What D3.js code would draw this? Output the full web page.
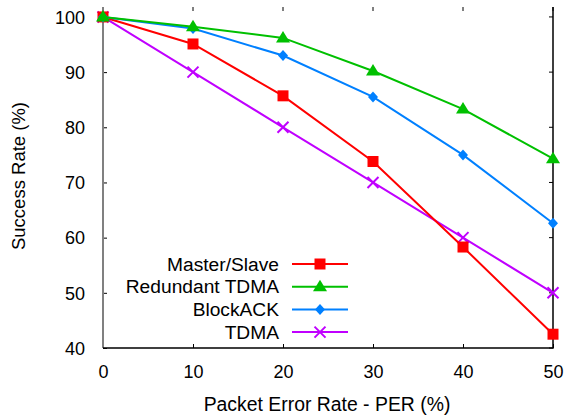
<!DOCTYPE html>
<html>
<head>
<meta charset="utf-8">
<script src="https://cdn.jsdelivr.net/npm/d3@7"></script>
<style>
body { margin: 0; background: #fff; }
svg { display: block; font-family: "Liberation Sans", Arial, sans-serif; }
.tick text { font-size: 18px; fill: #000; }
</style>
</head>
<body>
<svg></svg>
<script>
var width = 564,
    height = 419;

// data
var per = [0, 10, 20, 30, 40, 50];
var masterSlave = [100, 95.1, 85.7, 73.8, 58.3, 42.5];
var redundantTdma = [100, 98.2, 96.2, 90.2, 83.3, 74.3];
var blockAck = [100, 97.9, 93.0, 85.5, 75.0, 62.6];
var tdma = [100, 90, 80, 70, 60, 50];
var xTicks = [0, 10, 20, 30, 40, 50];
var yTicks = [40, 50, 60, 70, 80, 90, 100];
var names = ['Master/Slave', 'Redundant TDMA', 'BlockACK', 'TDMA'];

var series = [
    {name: names[0], values: masterSlave, color: '#ff0000', symbol: 'square'},
    {name: names[1], values: redundantTdma, color: '#00c000', symbol: 'triangle'},
    {name: names[2], values: blockAck, color: '#0080ff', symbol: 'diamond'},
    {name: names[3], values: tdma, color: '#c000ff', symbol: 'cross'}
];

var margin = {left: 103, right: 11, top: 7, bottom: 71};

var svg = d3.select('svg')
    .attr('width', width)
    .attr('height', height);

var x = d3.scaleLinear().domain([0, 50]).range([margin.left, width - margin.right]),
    y = d3.scaleLinear().domain([40, 101.8]).range([height - margin.bottom, margin.top]);

var x0 = x.range()[0], x1 = x.range()[1],
    y0 = y.range()[0], y1 = y.range()[1];

// axes (ticks point inward like gnuplot)
var xAxis = d3.axisBottom(x).tickValues(xTicks).tickSize(-4).tickPadding(19).tickFormat(d3.format('d'));
var yAxis = d3.axisLeft(y).tickValues(yTicks).tickSize(-4).tickPadding(18).tickFormat(d3.format('d'));

var gx = svg.append('g')
    .attr('transform', 'translate(0,' + y0 + ')')
    .call(xAxis);
gx.select('.domain').remove();
gx.selectAll('.tick text').attr('dy', '0.6em');

var gy = svg.append('g')
    .attr('transform', 'translate(' + x0 + ',0)')
    .call(yAxis);
gy.select('.domain').remove();
gy.selectAll('.tick text').attr('dy', '0.35em');

// mirrored ticks, top and right
svg.append('g').selectAll('line')
    .data(xTicks)
    .enter().append('line')
    .attr('x1', function (d) { return x(d); })
    .attr('x2', function (d) { return x(d); })
    .attr('y1', y1)
    .attr('y2', y1 + 4)
    .attr('stroke', '#000');

svg.append('g').selectAll('line')
    .data(yTicks)
    .enter().append('line')
    .attr('x1', x1)
    .attr('x2', x1 - 4)
    .attr('y1', function (d) { return y(d); })
    .attr('y2', function (d) { return y(d); })
    .attr('stroke', '#000');

// borders: gray left, black bottom and right, none on top
svg.append('line')
    .attr('x1', x0).attr('x2', x0)
    .attr('y1', y1).attr('y2', y0)
    .attr('stroke', '#808080').attr('stroke-width', 2);
svg.append('path')
    .attr('d', 'M' + x0 + ',' + y0 + 'H' + x1 + 'V' + y1)
    .attr('fill', 'none')
    .attr('stroke', '#000')
    .attr('stroke-width', 1.5);

// axis titles
svg.append('text')
    .attr('x', 327)
    .attr('y', 411)
    .attr('text-anchor', 'middle')
    .style('font-size', '19.4px')
    .text('Packet Error Rate - PER (%)');

svg.append('text')
    .attr('transform', 'translate(25,176) rotate(-90)')
    .attr('text-anchor', 'middle')
    .style('font-size', '18.5px')
    .text('Success Rate (%)');

var line = d3.line()
    .x(function (d, i) { return x(per[i]); })
    .y(function (d) { return y(d); });

function drawSymbol(g, s, cx, cy) {
    var p = d3.path();
    if (s.symbol == 'cross') {
        var r = 5.5;
        p.moveTo(cx - r, cy - r); p.lineTo(cx + r, cy + r);
        p.moveTo(cx - r, cy + r); p.lineTo(cx + r, cy - r);
        g.append('path')
            .attr('d', p.toString())
            .attr('stroke', s.color)
            .attr('stroke-width', 2)
            .attr('fill', 'none');
        return;
    }
    if (s.symbol == 'square') {
        p.rect(cx - 5.5, cy - 5.5, 11, 11);
    } else if (s.symbol == 'triangle') {
        p.moveTo(cx, cy - 7); p.lineTo(cx + 7, cy + 4.5); p.lineTo(cx - 7, cy + 4.5); p.closePath();
    } else {
        p.moveTo(cx, cy - 5.5); p.lineTo(cx + 5, cy); p.lineTo(cx, cy + 5.5); p.lineTo(cx - 5, cy); p.closePath();
    }
    g.append('path')
        .attr('d', p.toString())
        .attr('fill', s.color);
}

// series drawn back to front
var order = [3, 0, 2, 1];
order.forEach(function (k) {
    var s = series[k];
    var g = svg.append('g').attr('class', 'series');
    g.append('path')
        .attr('d', line(s.values))
        .attr('fill', 'none')
        .attr('stroke', s.color)
        .attr('stroke-width', 2);
    s.values.forEach(function (v, i) {
        drawSymbol(g, s, x(per[i]), y(v));
    });
});

// legend
var legend = svg.append('g').attr('class', 'legend');
series.forEach(function (s, i) {
    var ly = 264 + i * 22.7;
    legend.append('text')
        .attr('x', 279)
        .attr('y', ly)
        .attr('dy', '0.35em')
        .attr('text-anchor', 'end')
        .style('font-size', '19.2px')
        .text(s.name);
    legend.append('line')
        .attr('x1', 292).attr('x2', 348)
        .attr('y1', ly).attr('y2', ly)
        .attr('stroke', s.color)
        .attr('stroke-width', 2);
    drawSymbol(legend, s, 320, ly);
});
</script>
</body>
</html>
